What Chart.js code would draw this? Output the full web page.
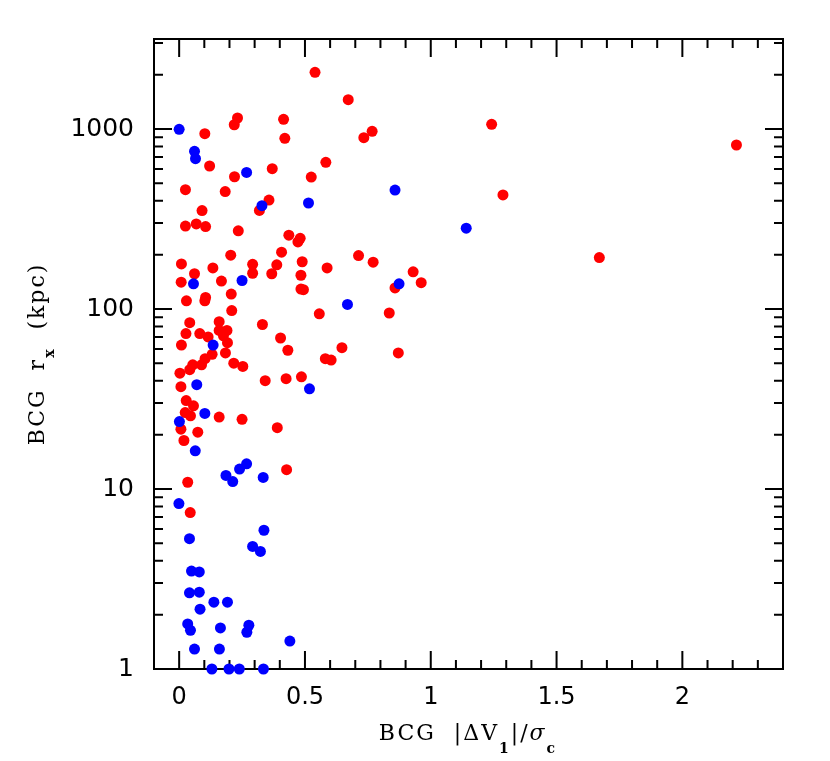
<!DOCTYPE html>
<html>
<head>
<meta charset="utf-8">
<script src="https://cdn.jsdelivr.net/npm/chart.js@4.4.1/dist/chart.umd.min.js"></script>
<style>body{margin:0;background:#fff}</style>
</head>
<body>
<canvas id="rxChart" width="830" height="761"></canvas>
<script>
// red clusters: BCG offset vs r_x
const redX = [0.540, 0.672, 0.232, 0.219, 0.415, 0.102, 0.420, 0.734, 0.767, 0.121,
  0.220, 0.370, 0.583, 0.525, 0.025, 0.183, 0.357, 0.319, 0.091, 0.025,
  0.068, 0.105, 0.235, 0.436, 0.481, 0.472, 0.407, 0.205, 0.713, 0.771,
  0.489, 0.009, 0.292, 0.388, 0.134, 0.588, 0.930, 0.061, 0.292, 0.368,
  0.484, 0.008, 0.168, 0.962, 0.858, 0.484, 0.494, 0.207, 0.105, 0.102,
  0.029, 0.209, 0.557, 0.835, 0.042, 0.159, 0.331, 0.159, 0.190, 0.027,
  0.082, 0.115, 0.176, 0.192, 0.403, 0.009, 0.432, 0.647, 0.131, 0.184,
  0.581, 0.604, 0.871, 0.103, 0.054, 0.089, 0.042, 0.003, 0.217, 0.253,
  0.486, 0.425, 0.342, 0.007, 0.028, 0.057, 0.024, 0.045, 0.159, 0.250,
  0.007, 0.390, 0.074, 0.019, 0.427, 0.034, 0.044, 1.242, 2.215, 1.287,
  1.670];
const redY = [2065, 1455, 1151, 1056, 1132, 942, 888, 895, 971, 623,
  543, 602, 653, 541, 460, 449, 403, 353, 352, 289,
  297, 287, 272, 257, 247, 236, 207, 199, 198, 182,
  183, 178, 177, 176, 169, 169, 161, 157, 158, 157,
  154, 141, 143, 140, 131, 129, 128, 121, 116, 111,
  111, 98, 94, 95, 84, 85, 82, 76, 76, 73,
  73, 70, 71, 65, 69, 63, 59, 61, 56, 57,
  53, 52, 57, 53, 49, 49, 46, 44, 50, 48,
  42, 41, 40, 37, 31, 29, 26.6, 25.5, 25.1, 24.4,
  21.5, 21.9, 20.7, 18.6, 12.8, 10.9, 7.4, 1062, 815, 430,
  193];

// blue clusters
const blueX = [0.000, 0.061, 0.065, 0.268, 0.858, 0.329, 0.514, 1.141, 0.057, 0.250,
  0.874, 0.669, 0.135, 0.070, 0.518, 0.102, 0.001, 0.064, 0.268, 0.240,
  0.186, 0.213, 0.334, -0.001, 0.337, 0.041, 0.292, 0.323, 0.049, 0.080,
  0.041, 0.080, 0.138, 0.192, 0.083, 0.034, 0.045, 0.164, 0.277, 0.269,
  0.440, 0.061, 0.160, 0.130, 0.198, 0.239, 0.335];
const blueY = [996, 752, 684, 574, 458, 375, 388, 281, 138, 144,
  138, 106, 63, 38, 36, 26.3, 23.7, 16.3, 13.8, 12.9,
  11.9, 11.0, 11.6, 8.3, 5.9, 5.3, 4.8, 4.5, 3.5, 3.46,
  2.65, 2.67, 2.35, 2.35, 2.15, 1.78, 1.64, 1.69, 1.75, 1.60,
  1.43, 1.29, 1.29, 1.0, 1.0, 1.0, 1.0];

const xTicks = [0, 0.5, 1, 1.5, 2];
const yTicks = [1, 10, 100, 1000];
const xRange = [-0.1, 2.4];
const yRange = [1, 3162.28];

function toPoints(xs, ys) {
  return xs.map((x, i) => ({ x: x, y: ys[i] }));
}

// draws a run of text pieces (for sub-scripts) centred on cx
function drawPieces(ctx, pieces, cx, baseY) {
  let w = 0;
  pieces.forEach(p => { ctx.font = p.font; w += ctx.measureText(p.t).width; });
  let x = cx - w / 2;
  pieces.forEach(p => {
    ctx.font = p.font;
    ctx.fillText(p.t, x, baseY + (p.dy || 0));
    x += ctx.measureText(p.t).width;
  });
}

const mainFont = '22px "DejaVu Serif"';
const subFont = 'bold 14px "DejaVu Serif"';

const framePlugin = {
  id: 'frame',
  beforeDatasetsDraw(chart) {
    const ctx = chart.ctx;
    const a = chart.chartArea;
    const xs = chart.scales.x, ys = chart.scales.y;
    ctx.save();
    ctx.strokeStyle = '#000';
    ctx.lineWidth = 2;
    ctx.strokeRect(a.left, a.top, a.right - a.left, a.bottom - a.top);
    ctx.beginPath();
    for (let i = 0; i < 24; i++) {
      const px = xs.getPixelForValue(i / 10);
      const len = i % 5 === 0 ? 18 : 9;
      ctx.moveTo(px, a.bottom); ctx.lineTo(px, a.bottom - len);
      ctx.moveTo(px, a.top); ctx.lineTo(px, a.top + len);
    }
    for (let d = 1; d <= 1000; d *= 10) {
      for (let m = 1; m <= 9; m++) {
        const v = d * m;
        if (v <= 1 || v >= yRange[1]) continue;
        const py = ys.getPixelForValue(v);
        const len = m === 1 ? 18 : 9;
        ctx.moveTo(a.left, py); ctx.lineTo(a.left + len, py);
        ctx.moveTo(a.right, py); ctx.lineTo(a.right - len, py);
      }
    }
    ctx.stroke();
    ctx.restore();
  },
  afterDraw(chart) {
    const ctx = chart.ctx;
    const a = chart.chartArea;
    ctx.save();
    ctx.fillStyle = '#000';
    ctx.textBaseline = 'alphabetic';
    ctx.letterSpacing = '2px';
    drawPieces(ctx, [
      { t: 'BCG  |ΔV', font: mainFont },
      { t: '1', font: subFont, dy: 13 },
      { t: '|/', font: mainFont },
      { t: 'σ', font: 'italic ' + mainFont },
      { t: 'c', font: subFont, dy: 13 }
    ], 468, 740);

    ctx.translate(44, (a.top + a.bottom) / 2);
    ctx.rotate(-Math.PI / 2);
    drawPieces(ctx, [
      { t: 'BCG  r', font: mainFont },
      { t: 'x', font: subFont, dy: 10 },
      { t: '  (kpc)', font: mainFont }
    ], 0, 0);
    ctx.restore();
  }
};

new Chart(document.getElementById('rxChart').getContext('2d'), {
  type: 'scatter',
  data: {
    datasets: [
      {
        label: 'blue',
        data: toPoints(blueX, blueY),
        backgroundColor: '#0000ff',
        borderWidth: 0,
        pointRadius: 5.5,
        clip: false
      },
      {
        label: 'red',
        data: toPoints(redX, redY),
        backgroundColor: '#ff0000',
        borderWidth: 0,
        pointRadius: 5.5,
        clip: false
      }
    ]
  },
  plugins: [framePlugin],
  options: {
    responsive: false,
    animation: false,
    events: [],
    layout: { padding: { top: 39, right: 47, left: 0, bottom: 0 } },
    plugins: { legend: { display: false }, tooltip: { enabled: false } },
    scales: {
      x: {
        type: 'linear',
        min: xRange[0],
        max: xRange[1],
        grid: { display: false, drawTicks: false },
        border: { display: false },
        afterBuildTicks: s => { s.ticks = xTicks.map(v => ({ value: v })); },
        afterFit: s => { s.height = 92; },
        ticks: {
          padding: 14,
          color: '#000',
          font: { family: 'DejaVu Sans', size: 24 },
          callback: v => String(v)
        }
      },
      y: {
        type: 'logarithmic',
        min: yRange[0],
        max: yRange[1],
        grid: { display: false, drawTicks: false },
        border: { display: false },
        afterBuildTicks: s => { s.ticks = yTicks.map(v => ({ value: v })); },
        afterFit: s => { s.width = 154; },
        ticks: {
          padding: 20,
          color: '#000',
          font: { family: 'DejaVu Sans', size: 25 },
          callback: v => String(v)
        }
      }
    }
  }
});
</script>
</body>
</html>
